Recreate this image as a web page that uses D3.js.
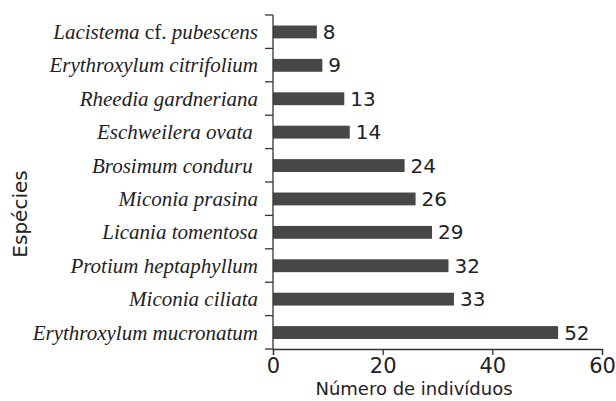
<!DOCTYPE html>
<script src="https://d3js.org/d3.v7.min.js"></script>
<html><head>
<style>
body { margin: 0; background: #fff; }
</style>
</head><body>
<svg class="chart"></svg>
<script>
var width = 616, height = 401;
var margin = {top: 15, right: 14, bottom: 52, left: 273};

var species = [
  ["Lacistema", " cf. ", "pubescens"],
  ["Erythroxylum citrifolium"],
  ["Rheedia gardneriana"],
  ["Eschweilera ovata "],
  ["Brosimum conduru "],
  ["Miconia prasina"],
  ["Licania tomentosa"],
  ["Protium heptaphyllum"],
  ["Miconia ciliata"],
  ["Erythroxylum mucronatum"]
];
var counts = [8, 9, 13, 14, 24, 26, 29, 32, 33, 52];
var xTicks = [0, 20, 40, 60];

var svg = d3.select(".chart").attr("width", width).attr("height", height);
var g = svg.append("g").attr("transform", "translate(" + margin.left + "," + margin.top + ")");
var w = width - margin.left - margin.right;
var h = height - margin.top - margin.bottom;

var x = d3.scaleLinear().domain([0, 60]).range([0, w]);
var y = d3.scaleBand().domain(d3.range(species.length)).range([0, h]).paddingInner(0.6).paddingOuter(0.3);
var step = y.step();

// bars
g.selectAll("rect.bar").data(counts).enter().append("rect")
  .attr("class", "bar")
  .attr("x", 0)
  .attr("y", function(d, i) { return y(i) + 0.5; })
  .attr("width", function(d) { return x(d); })
  .attr("height", y.bandwidth() - 0.5)
  .attr("fill", "#474747");

// value labels
g.selectAll("text.val").data(counts).enter().append("text")
  .attr("x", function(d) { return x(d) + 6; })
  .attr("y", function(d, i) { return y(i) + y.bandwidth() / 2; })
  .attr("dy", "0.36em")
  .style("font-family", "DejaVu Sans")
  .style("font-size", "20px")
  .attr("fill", "#222")
  .text(function(d) { return d; });

// y axis line + boundary ticks
g.append("line").attr("x1", 0).attr("x2", 0).attr("y1", 0).attr("y2", h)
  .attr("stroke", "#333").attr("stroke-width", 1.3);
g.selectAll("line.yt").data(d3.range(species.length + 1)).enter().append("line")
  .attr("x1", -8).attr("x2", 0)
  .attr("y1", function(i) { return i * step; })
  .attr("y2", function(i) { return i * step; })
  .attr("stroke", "#333").attr("stroke-width", 1.3);

// species labels
var lab = g.selectAll("text.sp").data(species).enter().append("text")
  .attr("x", -15)
  .attr("y", function(d, i) { return y(i) + y.bandwidth() / 2; })
  .attr("dy", "0.35em")
  .attr("text-anchor", "end")
  .style("font-family", "Liberation Serif")
  .style("font-size", "21px")
  .style("white-space", "pre")
  .attr("fill", "#222");
lab.each(function(d) {
  var t = d3.select(this);
  d.forEach(function(part, k) {
    t.append("tspan")
      .style("font-style", (d.length === 3 && k === 1) ? "normal" : "italic")
      .text(part);
  });
});

// x axis
var xa = g.append("g").attr("transform", "translate(0," + h + ")")
  .call(d3.axisBottom(x).tickValues(xTicks).tickSize(6).tickPadding(3));
xa.select(".domain").attr("stroke", "#333").attr("stroke-width", 1.3);
xa.selectAll(".tick line").attr("stroke", "#333").attr("stroke-width", 1.3);
xa.selectAll(".tick text")
  .style("font-family", "DejaVu Sans")
  .style("font-size", "21px")
  .attr("fill", "#222");

// axis titles
svg.append("text")
  .attr("x", 414)
  .attr("y", 395)
  .attr("text-anchor", "middle")
  .style("font-family", "DejaVu Sans")
  .style("font-size", "18px")
  .attr("fill", "#222")
  .text("Número de indivíduos");

svg.append("text")
  .attr("transform", "translate(27,214) rotate(-90)")
  .attr("text-anchor", "middle")
  .style("font-family", "DejaVu Sans")
  .style("font-size", "20px")
  .attr("fill", "#222")
  .text("Espécies");
</script>
</body></html>
